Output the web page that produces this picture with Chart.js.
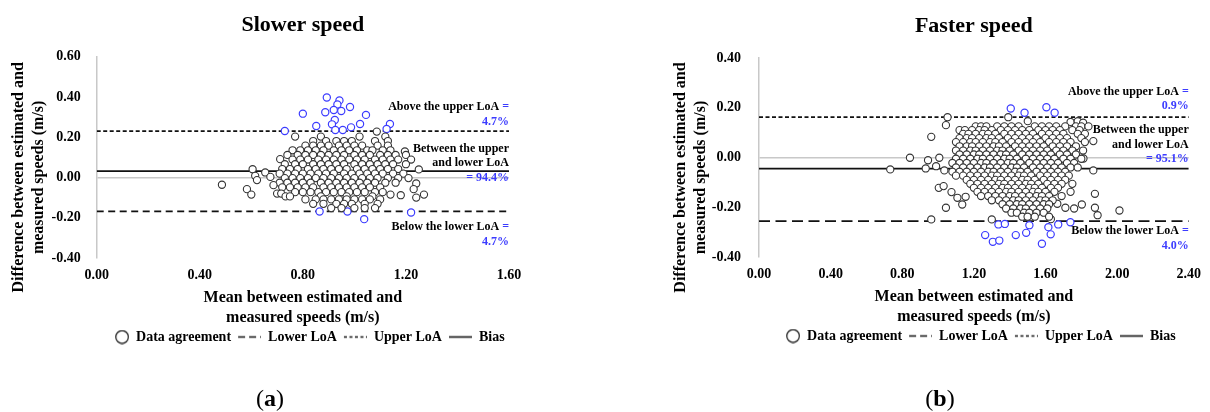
<!DOCTYPE html>
<html><head><meta charset="utf-8">
<script src="https://cdn.jsdelivr.net/npm/chart.js@4.4.1/dist/chart.umd.min.js"></script>
<style>
html,body{margin:0;padding:0;background:#fff;width:1210px;height:412px;overflow:hidden;}
.panel{position:absolute;top:0;}
.panel canvas{display:block;}
.cap{position:absolute;top:398px;transform:translate(-50%,-50%);font-family:'Liberation Serif',serif;font-size:24px;color:#000;white-space:nowrap;}
</style></head><body>
<div class="panel" style="left:0"><canvas id="c1" width="560" height="412"></canvas></div>
<div class="panel" style="left:600px"><canvas id="c2" width="610" height="412"></canvas></div>
<div class="cap" style="left:270px">(<b>a</b>)</div>
<div class="cap" style="left:940px">(<b>b</b>)</div>
<script>
// ---------- Slower speed (a) ----------
const slowerXTicks = [0, 0.4, 0.8, 1.2, 1.6];
const slowerYTicks = [-0.4, -0.2, 0, 0.2, 0.4, 0.6];
const slowerLowerLoA = -0.168;
const slowerUpperLoA = 0.23;
const slowerBias = 0.032;
const slowerNotes = ['Above the upper LoA ', '=', '4.7%', 'Between the upper', 'and lower LoA', '= 94.4%', 'Below the lower LoA ', '=', '4.7%'];
const slowerAgree = [
[1.087,0.228],
[0.77,0.203],[0.87,0.203],[1.02,0.203],[1.12,0.203],
[0.84,0.181],[0.89,0.181],[0.93,0.181],[0.96,0.181],[0.99,0.181],[1.08,0.181],[1.13,0.181],
[0.81,0.158],[0.84,0.158],[0.87,0.158],[0.90,0.158],[0.94,0.158],[0.97,0.158],[1.00,0.158],[1.03,0.158],[1.09,0.158],[1.13,0.158],
[0.76,0.135],[0.79,0.135],[0.82,0.135],[0.85,0.135],[0.88,0.135],[0.92,0.135],[0.95,0.135],[0.98,0.135],[1.01,0.135],[1.05,0.135],[1.07,0.135],[1.11,0.135],[1.14,0.135],[1.196,0.129],
[0.74,0.112],[0.78,0.112],[0.81,0.112],[0.84,0.112],[0.87,0.112],[0.90,0.112],[0.93,0.112],[0.96,0.112],[1.00,0.112],[1.03,0.112],[1.06,0.112],[1.10,0.112],[1.13,0.112],[1.16,0.112],[1.20,0.112],
[0.712,0.091],[0.76,0.089],[0.79,0.089],[0.82,0.089],[0.86,0.089],[0.89,0.089],[0.92,0.089],[0.95,0.089],[0.98,0.089],[1.01,0.089],[1.04,0.089],[1.08,0.089],[1.11,0.089],[1.14,0.089],[1.17,0.089],[1.22,0.089],
[0.73,0.066],[0.77,0.066],[0.80,0.066],[0.84,0.066],[0.87,0.066],[0.90,0.066],[0.93,0.066],[0.96,0.066],[1.00,0.066],[1.03,0.066],[1.06,0.066],[1.09,0.066],[1.12,0.066],[1.15,0.066],[1.20,0.066],
[0.605,0.041],[0.72,0.042],[0.75,0.042],[0.78,0.042],[0.82,0.042],[0.85,0.042],[0.88,0.042],[0.91,0.042],[0.94,0.042],[0.97,0.042],[1.01,0.042],[1.04,0.042],[1.07,0.042],[1.10,0.042],[1.13,0.042],[1.17,0.042],[1.25,0.040],
[0.654,0.025],
[0.71,0.019],[0.74,0.019],[0.77,0.019],[0.80,0.019],[0.83,0.019],[0.86,0.019],[0.89,0.019],[0.92,0.019],[0.96,0.019],[0.99,0.019],[1.02,0.019],[1.05,0.019],[1.08,0.019],[1.11,0.019],[1.15,0.019],[1.19,0.019],
[0.615,0.008],[0.674,0.003],
[0.73,-0.003],[0.76,-0.003],[0.79,-0.003],[0.82,-0.003],[0.85,-0.003],[0.88,-0.003],[0.91,-0.003],[0.94,-0.003],[0.97,-0.003],[1.00,-0.003],[1.03,-0.003],[1.06,-0.003],[1.09,-0.003],[1.13,-0.003],[1.17,-0.003],[1.21,-0.003],
[0.622,-0.013],
[0.71,-0.026],[0.74,-0.026],[0.77,-0.026],[0.80,-0.026],[0.83,-0.026],[0.87,-0.026],[0.90,-0.026],[0.93,-0.026],[0.96,-0.026],[0.99,-0.026],[1.02,-0.026],[1.05,-0.026],[1.08,-0.026],[1.12,-0.026],[1.16,-0.026],[1.24,-0.030],
[0.486,-0.036],[0.686,-0.038],
[0.72,-0.049],[0.75,-0.049],[0.78,-0.049],[0.81,-0.049],[0.84,-0.049],[0.88,-0.049],[0.91,-0.049],[0.94,-0.049],[0.97,-0.049],[1.00,-0.049],[1.03,-0.049],[1.06,-0.049],[1.10,-0.049],[1.23,-0.058],
[0.583,-0.058],
[0.77,-0.073],[0.80,-0.073],[0.83,-0.073],[0.86,-0.073],[0.89,-0.073],[0.92,-0.073],[0.95,-0.073],[0.98,-0.073],[1.01,-0.073],[1.04,-0.073],[1.08,-0.073],[1.11,-0.073],
[0.70,-0.080],[0.716,-0.080],
[0.60,-0.085],[1.14,-0.085],[1.18,-0.088],[1.27,-0.085],
[0.733,-0.094],[0.75,-0.094],[0.87,-0.094],[0.97,-0.094],[1.07,-0.094],[1.24,-0.100],
[0.81,-0.109],[0.85,-0.109],[0.88,-0.109],[0.91,-0.109],[0.94,-0.109],[0.97,-0.109],[1.00,-0.109],[1.03,-0.109],[1.06,-0.109],[1.10,-0.109],
[0.84,-0.131],[0.88,-0.131],[0.93,-0.131],[0.96,-0.131],[0.99,-0.131],[1.04,-0.131],[1.09,-0.131],
[0.91,-0.152],[0.95,-0.152],[1.00,-0.152],[1.04,-0.152],[1.08,-0.152]
];
const slowerOutside = [
[0.893,0.397],[0.942,0.383],[0.934,0.363],[0.983,0.350],[0.920,0.335],[0.949,0.330],[0.887,0.324],[0.800,0.317],
[1.045,0.311],[0.924,0.286],[0.913,0.264],[1.022,0.266],[1.138,0.266],[0.852,0.256],[0.987,0.249],[0.955,0.236],
[0.926,0.236],[1.125,0.241],[0.730,0.231],
[0.865,-0.169],[0.973,-0.169],[1.038,-0.207],[1.220,-0.174]
];

// ---------- Faster speed (b) ----------
const fasterXTicks = [0, 0.4, 0.8, 1.2, 1.6, 2.0, 2.4];
const fasterYTicks = [-0.4, -0.2, 0, 0.2, 0.4];
const fasterLowerLoA = -0.256;
const fasterUpperLoA = 0.162;
const fasterBias = -0.045;
const fasterNotes = ['Above the upper LoA ', '=', '0.9%', 'Between the upper', 'and lower LoA', '= 95.1%', 'Below the lower LoA ', '=', '4.0%'];
const fasterAgree = [
[0.733,-0.048],[0.843,-0.001],[0.962,0.083],[0.944,-0.011],[0.931,-0.044],[1.007,-0.001],[0.989,-0.035],[1.035,-0.052],
[1.053,0.162],[1.044,0.130],[0.962,-0.249],[1.004,-0.122],[1.031,-0.115],[1.075,-0.139],[1.044,-0.202],[1.108,-0.162],
[1.154,-0.158],[1.135,-0.189],[1.300,-0.249],[1.392,0.162],[1.501,0.146],[1.867,0.066],[1.867,-0.052],[1.876,-0.146],
[1.803,-0.189],[1.876,-0.202],[1.891,-0.232],[2.013,-0.213],[1.812,-0.004],[1.711,-0.202],[1.666,-0.186],[1.63,-0.248],
[1.74,0.143],[1.78,0.146],[1.81,0.140],
[1.21,0.125],[1.24,0.125],[1.27,0.125],[1.33,0.125],[1.37,0.125],[1.41,0.125],[1.45,0.125],[1.54,0.125],[1.58,0.125],[1.62,0.125],[1.66,0.125],[1.71,0.125],[1.77,0.125],[1.80,0.125],[1.84,0.125],
[1.12,0.110],[1.15,0.110],[1.19,0.110],[1.23,0.110],[1.26,0.110],[1.30,0.110],[1.35,0.110],[1.39,0.110],[1.43,0.110],[1.47,0.110],[1.51,0.110],[1.56,0.110],[1.60,0.110],[1.64,0.110],[1.68,0.110],[1.75,0.110],[1.79,0.110],
[1.14,0.095],[1.17,0.095],[1.21,0.095],[1.25,0.095],[1.28,0.095],[1.32,0.095],[1.37,0.095],[1.41,0.095],[1.45,0.095],[1.49,0.095],[1.53,0.095],[1.58,0.095],[1.62,0.095],[1.66,0.095],[1.70,0.095],[1.78,0.095],[1.82,0.095],
[1.12,0.078],[1.16,0.078],[1.19,0.078],[1.23,0.078],[1.27,0.078],[1.30,0.078],[1.34,0.078],[1.39,0.078],[1.43,0.078],[1.47,0.078],[1.51,0.078],[1.55,0.078],[1.60,0.078],[1.64,0.078],[1.68,0.078],[1.72,0.078],[1.80,0.078],
[1.10,0.062],[1.14,0.062],[1.18,0.062],[1.21,0.062],[1.25,0.062],[1.29,0.062],[1.32,0.062],[1.36,0.062],[1.41,0.062],[1.45,0.062],[1.49,0.062],[1.53,0.062],[1.57,0.062],[1.62,0.062],[1.66,0.062],[1.70,0.062],[1.74,0.062],[1.82,0.062],
[1.12,0.045],[1.16,0.045],[1.19,0.045],[1.23,0.045],[1.27,0.045],[1.31,0.045],[1.34,0.045],[1.38,0.045],[1.43,0.045],[1.47,0.045],[1.51,0.045],[1.55,0.045],[1.59,0.045],[1.64,0.045],[1.68,0.045],[1.72,0.045],[1.77,0.045],
[1.10,0.028],[1.14,0.028],[1.18,0.028],[1.21,0.028],[1.25,0.028],[1.29,0.028],[1.33,0.028],[1.36,0.028],[1.40,0.028],[1.45,0.028],[1.49,0.028],[1.53,0.028],[1.57,0.028],[1.61,0.028],[1.66,0.028],[1.70,0.028],[1.75,0.028],[1.81,0.028],
[1.12,0.012],[1.16,0.012],[1.20,0.012],[1.23,0.012],[1.27,0.012],[1.31,0.012],[1.35,0.012],[1.38,0.012],[1.42,0.012],[1.47,0.012],[1.51,0.012],[1.55,0.012],[1.59,0.012],[1.63,0.012],[1.68,0.012],[1.72,0.012],[1.77,0.012],
[1.10,-0.005],[1.14,-0.005],[1.18,-0.005],[1.22,-0.005],[1.25,-0.005],[1.29,-0.005],[1.33,-0.005],[1.37,-0.005],[1.40,-0.005],[1.44,-0.005],[1.49,-0.005],[1.53,-0.005],[1.57,-0.005],[1.61,-0.005],[1.65,-0.005],[1.70,-0.005],[1.74,-0.005],[1.80,-0.005],
[1.08,-0.022],[1.12,-0.022],[1.16,-0.022],[1.20,-0.022],[1.24,-0.022],[1.27,-0.022],[1.31,-0.022],[1.35,-0.022],[1.39,-0.022],[1.42,-0.022],[1.46,-0.022],[1.51,-0.022],[1.55,-0.022],[1.59,-0.022],[1.63,-0.022],[1.67,-0.022],[1.72,-0.022],[1.76,-0.022],
[1.10,-0.040],[1.14,-0.040],[1.18,-0.040],[1.22,-0.040],[1.26,-0.040],[1.29,-0.040],[1.33,-0.040],[1.37,-0.040],[1.41,-0.040],[1.44,-0.040],[1.48,-0.040],[1.53,-0.040],[1.57,-0.040],[1.61,-0.040],[1.65,-0.040],[1.69,-0.040],[1.74,-0.040],[1.78,-0.040],
[1.08,-0.057],[1.12,-0.057],[1.16,-0.057],[1.20,-0.057],[1.24,-0.057],[1.28,-0.057],[1.31,-0.057],[1.35,-0.057],[1.39,-0.057],[1.43,-0.057],[1.46,-0.057],[1.50,-0.057],[1.55,-0.057],[1.59,-0.057],[1.63,-0.057],[1.67,-0.057],[1.71,-0.057],
[1.10,-0.073],[1.14,-0.073],[1.18,-0.073],[1.22,-0.073],[1.26,-0.073],[1.30,-0.073],[1.33,-0.073],[1.37,-0.073],[1.41,-0.073],[1.45,-0.073],[1.48,-0.073],[1.52,-0.073],[1.57,-0.073],[1.61,-0.073],[1.65,-0.073],[1.69,-0.073],[1.73,-0.073],
[1.16,-0.090],[1.20,-0.090],[1.24,-0.090],[1.28,-0.090],[1.32,-0.090],[1.35,-0.090],[1.39,-0.090],[1.43,-0.090],[1.47,-0.090],[1.50,-0.090],[1.54,-0.090],[1.59,-0.090],[1.63,-0.090],[1.67,-0.090],[1.71,-0.090],
[1.18,-0.106],[1.22,-0.106],[1.26,-0.106],[1.30,-0.106],[1.34,-0.106],[1.37,-0.106],[1.41,-0.106],[1.45,-0.106],[1.49,-0.106],[1.52,-0.106],[1.56,-0.106],[1.61,-0.106],[1.65,-0.106],[1.69,-0.106],[1.75,-0.106],
[1.20,-0.122],[1.24,-0.122],[1.28,-0.122],[1.32,-0.122],[1.36,-0.122],[1.39,-0.122],[1.43,-0.122],[1.47,-0.122],[1.51,-0.122],[1.54,-0.122],[1.58,-0.122],[1.63,-0.122],[1.67,-0.122],
[1.22,-0.138],[1.26,-0.138],[1.30,-0.138],[1.34,-0.138],[1.38,-0.138],[1.41,-0.138],[1.45,-0.138],[1.49,-0.138],[1.53,-0.138],[1.56,-0.138],[1.60,-0.138],[1.65,-0.138],[1.74,-0.138],
[1.24,-0.155],[1.28,-0.155],[1.32,-0.155],[1.36,-0.155],[1.40,-0.155],[1.43,-0.155],[1.47,-0.155],[1.51,-0.155],[1.55,-0.155],[1.58,-0.155],[1.62,-0.155],[1.69,-0.155],
[1.30,-0.172],[1.34,-0.172],[1.38,-0.172],[1.42,-0.172],[1.45,-0.172],[1.49,-0.172],[1.53,-0.172],[1.57,-0.172],[1.60,-0.172],[1.64,-0.172],
[1.36,-0.188],[1.40,-0.188],[1.44,-0.188],[1.47,-0.188],[1.51,-0.188],[1.55,-0.188],[1.59,-0.188],[1.62,-0.188],
[1.38,-0.205],[1.42,-0.205],[1.46,-0.205],[1.49,-0.205],[1.53,-0.205],[1.57,-0.205],[1.61,-0.205],[1.76,-0.205],
[1.41,-0.222],[1.44,-0.222],[1.48,-0.222],[1.51,-0.222],[1.55,-0.222],[1.59,-0.222],
[1.47,-0.238],[1.50,-0.238],[1.54,-0.238],[1.62,-0.238]
];
const fasterOutside = [
[1.406,0.197],[1.483,0.180],[1.605,0.202],[1.651,0.180],
[1.337,-0.269],[1.373,-0.267],[1.510,-0.272],[1.671,-0.269],[1.739,-0.260],[1.616,-0.280],[1.263,-0.312],[1.306,-0.339],
[1.342,-0.334],[1.434,-0.312],[1.492,-0.303],[1.629,-0.309],[1.580,-0.347]
];

// ---------- shared styling ----------
const SERIF = "'Liberation Serif', 'Times New Roman', serif";
const BLUE = '#3c3cff';
const INK = '#111';

function legendSymbol(kind, dash) {
  const c = document.createElement('canvas');
  c.width = 28; c.height = 15;
  const g = c.getContext('2d');
  g.strokeStyle = INK;
  if (kind === 'circle') {
    g.lineWidth = 1.2;
    g.beginPath(); g.arc(21, 7.5, 6.3, 0, Math.PI * 2); g.stroke();
  } else {
    g.lineWidth = 1.6;
    g.setLineDash(dash);
    g.beginPath(); g.moveTo(5, 7.5); g.lineTo(28, 7.5); g.stroke();
  }
  return c;
}

const annotatePlugin = {
  id: 'annot',
  afterDatasetsDraw(chart, args, opts) {
    const ctx = chart.ctx, ys = chart.scales.y, right = chart.chartArea.right;
    ctx.save();
    ctx.font = 'bold 12px ' + SERIF;
    ctx.textAlign = 'right';
    ctx.textBaseline = 'middle';
    for (const line of opts.lines) {
      let x = right;
      const y = ys.getPixelForValue(line.v);
      for (let i = line.parts.length - 1; i >= 0; i--) {
        const [t, col] = line.parts[i];
        ctx.fillStyle = col;
        ctx.fillText(t, x, y);
        x -= ctx.measureText(t).width;
      }
    }
    ctx.restore();
  },
  afterDraw(chart, args, opts) {
    const ctx = chart.ctx, a = chart.chartArea;
    const cy = (a.top + a.bottom) / 2 + opts.yTitleShift;
    ctx.save();
    ctx.font = 'bold 16px ' + SERIF;
    ctx.fillStyle = '#000';
    ctx.textAlign = 'center';
    ctx.textBaseline = 'middle';
    opts.yTitle.forEach((t, i) => {
      ctx.save();
      ctx.translate(a.left - opts.yTitleX[i], cy);
      ctx.rotate(-Math.PI / 2);
      ctx.fillText(t, 0, 0);
      ctx.restore();
    });
    ctx.restore();
  }
};

function makeChart(id, o) {
  const symbols = [legendSymbol('circle'), null, legendSymbol('line', o.lowerLegendDash), legendSymbol('line', [3, 2.5]), legendSymbol('line', [])];
  const xMax = o.xTicks[o.xTicks.length - 1];
  const tickFont = { family: SERIF, size: 14, weight: 'bold' };
  const lineDs = (label, yv, dash, order) => ({
    type: 'line', label, order, showLine: true,
    data: [{ x: 0, y: yv }, { x: xMax, y: yv }],
    borderColor: INK, borderWidth: 1.7, borderDash: dash,
    pointRadius: 0, pointHoverRadius: 0, fill: false
  });
  return new Chart(document.getElementById(id), {
    type: 'scatter',
    data: {
      datasets: [
        { label: 'Data agreement', order: 0, data: o.agree.map(p => ({ x: p[0], y: p[1] })),
          pointRadius: 3.6, borderWidth: 1.1, borderColor: '#333', backgroundColor: '#fff', pointStyle: 'circle' },
        { label: '', order: 0, data: o.outside.map(p => ({ x: p[0], y: p[1] })),
          pointRadius: 3.6, borderWidth: 1.2, borderColor: BLUE, backgroundColor: '#fff', pointStyle: 'circle' },
        lineDs('Lower LoA', o.lower, o.lowerDash, 1),
        lineDs('Upper LoA', o.upper, [4, 2.5], 2),
        lineDs('Bias', o.bias, [], 3)
      ]
    },
    options: {
      responsive: false,
      animation: false,
      events: [],
      layout: { padding: o.padding },
      scales: {
        x: {
          type: 'linear', min: 0, max: xMax,
          afterBuildTicks: s => { s.ticks = o.xTicks.map(v => ({ value: v })); },
          afterFit: s => { s.height = 70; },
          ticks: { padding: 9, color: '#000', font: tickFont, maxRotation: 0, autoSkip: false, callback: v => Number(v).toFixed(2) },
          grid: { display: false, drawTicks: false },
          border: { display: false },
          title: { display: true, text: ['Mean between estimated and', 'measured speeds (m/s)'], color: '#000',
                   font: { family: SERIF, size: 16, weight: 'bold', lineHeight: 1.25 }, padding: { top: 4, bottom: 0 } }
        },
        y: {
          type: 'linear', min: o.yTicks[0], max: o.yTicks[o.yTicks.length - 1],
          afterBuildTicks: s => { s.ticks = o.yTicks.map(v => ({ value: v })); },
          afterFit: s => { s.width = 60; },
          ticks: { padding: o.yTickPad, color: '#000', font: tickFont, autoSkip: false, callback: v => Number(v).toFixed(2) },
          grid: { drawTicks: false, lineWidth: 1.5, color: c => (c.tick && Math.abs(c.tick.value) < 1e-9) ? '#c8c8c8' : 'rgba(0,0,0,0)' },
          border: { display: true, color: '#c8c8c8', width: 1.5 }
        }
      },
      plugins: {
        tooltip: { enabled: false },
        title: { display: true, text: o.title, color: '#000', fullSize: false,
                 font: { family: SERIF, size: 22, weight: 'bold', lineHeight: 1.2 }, padding: o.titlePad },
        legend: {
          position: 'bottom', fullSize: false,
          labels: {
            usePointStyle: true, pointStyleWidth: 28, padding: 2, color: '#000',
            font: { family: SERIF, size: 14, weight: 'bold' },
            filter: it => it.text !== '',
            generateLabels: chart => {
              const items = Chart.defaults.plugins.legend.labels.generateLabels(chart);
              items.forEach(it => { if (symbols[it.datasetIndex]) it.pointStyle = symbols[it.datasetIndex]; it.fontColor = '#000'; });
              return items;
            }
          }
        },
        annot: {
          yTitle: ['Difference between estimated and', 'measured speeds (m/s)'],
          yTitleX: [78, 58], yTitleShift: 20,
          lines: o.notes
        }
      }
    },
    plugins: [annotatePlugin]
  });
}

makeChart('c1', {
  title: 'Slower speed', agree: slowerAgree, outside: slowerOutside,
  lower: slowerLowerLoA, upper: slowerUpperLoA, bias: slowerBias,
  lowerDash: [7, 4.5], lowerLegendDash: [7, 4],
  xTicks: slowerXTicks, yTicks: slowerYTicks, yTickPad: 16,
  padding: { left: 36.7, right: 51, top: 0, bottom: 58 },
  titlePad: { top: 12, bottom: 18.3 },
  notes: [
    { v: 0.35, parts: [[slowerNotes[0], '#000'], [slowerNotes[1], BLUE]] },
    { v: 0.275, parts: [[slowerNotes[2], BLUE]] },
    { v: 0.144, parts: [[slowerNotes[3], '#000']] },
    { v: 0.072, parts: [[slowerNotes[4], '#000']] },
    { v: 0.0, parts: [[slowerNotes[5], BLUE]] },
    { v: -0.248, parts: [[slowerNotes[6], '#000'], [slowerNotes[7], BLUE]] },
    { v: -0.319, parts: [[slowerNotes[8], BLUE]] }
  ]
});

makeChart('c2', {
  title: 'Faster speed', agree: fasterAgree, outside: fasterOutside,
  lower: fasterLowerLoA, upper: fasterUpperLoA, bias: fasterBias,
  lowerDash: [11, 5.5], lowerLegendDash: [7, 4],
  xTicks: fasterXTicks, yTicks: fasterYTicks, yTickPad: 18,
  padding: { left: 99, right: 15, top: 0, bottom: 59 },
  titlePad: { top: 13.5, bottom: 18.1 },
  notes: [
    { v: 0.264, parts: [[fasterNotes[0], '#000'], [fasterNotes[1], BLUE]] },
    { v: 0.206, parts: [[fasterNotes[2], BLUE]] },
    { v: 0.110, parts: [[fasterNotes[3], '#000']] },
    { v: 0.052, parts: [[fasterNotes[4], '#000']] },
    { v: -0.007, parts: [[fasterNotes[5], BLUE]] },
    { v: -0.296, parts: [[fasterNotes[6], '#000'], [fasterNotes[7], BLUE]] },
    { v: -0.357, parts: [[fasterNotes[8], BLUE]] }
  ]
});
</script>
</body></html>
